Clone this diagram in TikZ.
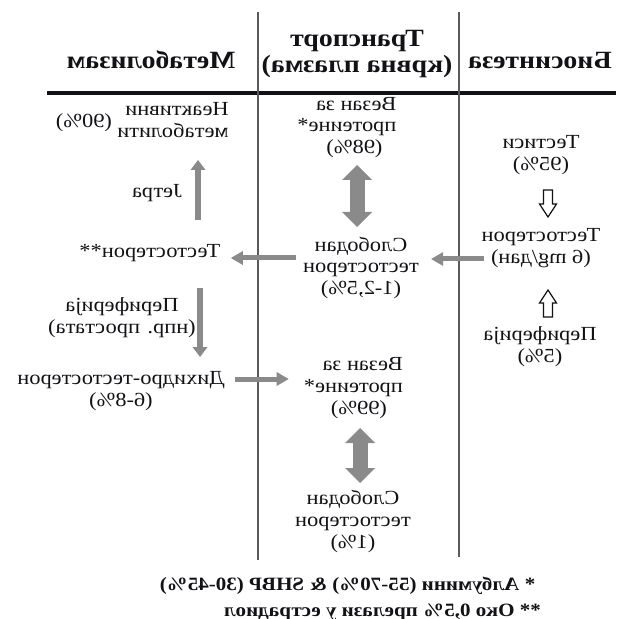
\documentclass[tikz,border=0pt]{standalone}
\usepackage{fontspec}
\setmainfont{Liberation Serif}[FakeStretch=1.12]
\usetikzlibrary{arrows.meta,calc}
\definecolor{ink}{HTML}{111116}
\definecolor{arrgray}{HTML}{8A8A8A}
\definecolor{rulegray}{HTML}{5A5A5A}
% every label is set mirror-wise
\newcommand\mirr[2][c]{\reflectbox{\begin{tabular}{@{}#1@{}}#2\end{tabular}}}
\tikzset{
  txt/.style={inner sep=0pt, text=ink, font=\fontsize{10}{10.9}\selectfont},
  head/.style={inner sep=0pt, text=ink, font=\fontsize{12.4}{13.2}\selectfont\bfseries},
  foot/.style={inner sep=0pt, text=ink, font=\fontsize{9.4}{11}\selectfont\bfseries},
  colline/.style={draw=rulegray, line width=0.6pt},
  toprule/.style={draw=ink, line width=2.2pt},
  vflow/.style={draw=arrgray, line width=3pt, -{Triangle[width=7.5pt,length=5pt,line width=0pt]}},
  hflow/.style={draw=arrgray, line width=2.5pt, -{Triangle[width=7pt,length=6pt,line width=0pt]}},
  swap/.style={draw=arrgray, line width=7.5pt,
    {Triangle[width=15pt,length=7.5pt,line width=0pt]}-{Triangle[width=15pt,length=7.5pt,line width=0pt]}},
  hollow/.style={draw=ink, fill=white, line width=0.6pt, line join=miter,
    to path={let \p1=(\tikztostart), \p2=(\tikztotarget), \n1={(\y2-\y1)/abs(\y2-\y1)} in
      (\x1-2.25pt,\y1) -- (\x1-2.25pt,\y2-\n1*6.5pt) -- (\x1-4.25pt,\y2-\n1*6.5pt) -- (\x2,\y2)
      -- (\x1+4.25pt,\y2-\n1*6.5pt) -- (\x1+2.25pt,\y2-\n1*6.5pt) -- (\x1+2.25pt,\y1) -- cycle}},
}
\begin{document}
\begin{tikzpicture}[x=0.5pt,y=-0.5pt]
\useasboundingbox (0,0) rectangle (616,619);

% column heads and rules
\node[head] (hMet) at (151,63) {\mirr{Метаболизам}};
\node[head] (hTr)  at (357,54) {\mirr{Транспорт\\(крвна плазма)}};
\node[head] (hBio) at (540,63) {\mirr{Биосинтеза}};
\draw[toprule] (47,93) -- (616,93);
\draw[colline] (258,12) -- (258,560);
\draw[colline] (459,12) -- (459,557);

% metabolism column
\node[txt] (inact)   at (173,122.5) {\mirr[l]{Неактивни\\метаболити}};
\node[txt] (p90)     at (84,123)    {\mirr{(90\%)}};
\node[txt] (liver)   at (157,193)   {\mirr{Јетра}};
\node[txt] (testoM)  at (150,253)   {\mirr{Тестостерон**}};
\node[txt] (periphM) at (122,318)   {\mirr{Периферија\\(нпр. простата)}};
\node[txt] (dht)     at (121,391.5) {\mirr{Дихидро-тестостерон\\(6-8\%)}};

% transport column
\node[txt] (bound1) at (347,127.5) {\mirr[l]{Везан за\\протеине*\\\hspace*{7pt}(98\%)}};
\node[txt] (free1)  at (361,268.5) {\mirr{Слободан\\тестостерон\\(1-2,5\%)}};
\node[txt] (bound2) at (353.5,388) {\mirr[l]{Везан за\\протеине*\\\hspace*{8pt}(99\%)}};
\node[txt] (free2)  at (353,522)   {\mirr{Слободан\\тестостерон\\(1\%)}};

% biosynthesis column
\node[txt] (testes)  at (541,155.5) {\mirr{Тестиси\\(95\%)}};
\node[txt] (testoB)  at (541,248.5) {\mirr{Тестостерон\\(6 mg/дан)}};
\node[txt] (periphB) at (540,347.5) {\mirr{Периферија\\(5\%)}};

% footnotes
\node[foot] (fn1) at (347.5,586) {\mirr{* Албумини (55-70\%) \& SHBP (30-45\%)}};
\node[foot] (fn2) at (382.5,612) {\mirr{** Око 0,5\% прелази у естрадиол}};

% arrow ends
\coordinate (v1a) at (198,220);
\coordinate (v1b) at (198,160);
\coordinate (v2a) at (200,288);
\coordinate (v2b) at (200,357);
\coordinate (h1a) at ([shift={(3,10.5)}]testoB.west);
\coordinate (h1b) at ([xshift=6pt]h1a -| free1.east);
\coordinate (h2a) at ([shift={(-7,-10.5)}]free1.west);
\coordinate (h2b) at ([xshift=5pt]h2a -| testoM.east);
\coordinate (h3a) at ([shift={(10,-12.5)}]dht.east);
\coordinate (h3b) at ([xshift=-7.5pt]h3a -| bound2.west);
\coordinate (s1a) at (357,165);
\coordinate (s1b) at (357,227);
\coordinate (s2a) at (360,428);
\coordinate (s2b) at (360,483);
\coordinate (w1a) at (548,190);
\coordinate (w1b) at (548,217);
\coordinate (w2a) at (548,317);
\coordinate (w2b) at (548,290);

% connectors
\draw[vflow] (v1a) -- (v1b);
\draw[vflow] (v2a) -- (v2b);
\draw[hflow] (h1a) -- (h1b);
\draw[hflow] (h2a) -- (h2b);
\draw[hflow] (h3a) -- (h3b);
\draw[swap] (s1a) -- (s1b);
\draw[swap] (s2a) -- (s2b);
\draw[hollow] (w1a) to (w1b);
\draw[hollow] (w2a) to (w2b);
\end{tikzpicture}
\end{document}
